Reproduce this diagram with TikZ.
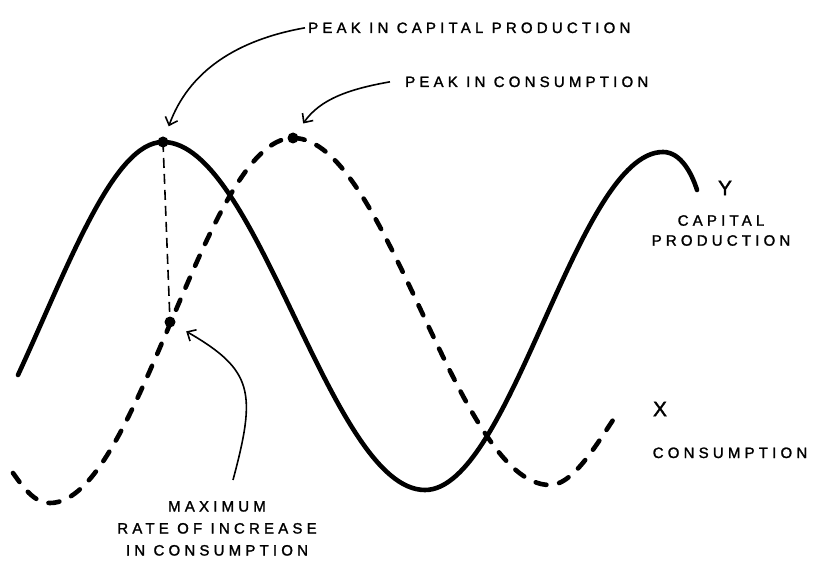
\documentclass[tikz,border=0pt]{standalone}
\usepackage{fontspec}
\newfontfamily\handfont[LetterSpace=28,FakeBold=1.6]{Liberation Sans}
\usetikzlibrary{arrows.meta}

\begin{document}
\begin{tikzpicture}[x=1pt,y=1pt,>={Straight Barb[length=7pt,width=13pt]},
  lbl/.style={font=\handfont\fontsize{15}{20}\selectfont,inner sep=3pt},
  bigletter/.style={font=\handfont\fontsize{21}{21}\selectfont,inner sep=0pt},
  curve/.style={line width=4.6pt,line cap=round},
  dashcurve/.style={curve,dash pattern=on 11pt off 13pt},
  guide/.style={line width=1.6pt,dash pattern=on 10pt off 6pt},
  pointer/.style={->,line width=1.6pt},
  dot/.style={circle,fill,inner sep=0pt,minimum size=11pt}]
  \useasboundingbox (0,0) rectangle (813,563);

  \node[dot] (capPeak) at (163,421) {};
  \node[dot] (conPeak) at (293,425) {};
  \node[dot] (conRise) at (170,241) {};

  \draw[curve] (18,188) .. controls +(50,108) and +(-50,0) .. (capPeak.center)
    .. controls +(95,0) and +(-95,0) .. (425,73)
    .. controls +(86,0) and +(-86,0) .. (663,411)
    .. controls +(18,0) and +(-5,16) .. (697,373);
  \draw[dashcurve] (13,90) .. controls +(10,-14) and +(-16,0) .. (50,60)
    .. controls +(88,0) and +(-88,0) .. (conPeak.center)
    .. controls +(94,0) and +(-94,0) .. (550,78)
    .. controls +(21,0) and +(-21,-32) .. (613,143);
  \draw[guide] (capPeak.center) -- (conRise.center);

  \node[lbl,anchor=base west] (capLbl) at (305,530) {PEAK IN CAPITAL PRODUCTION};
  \node[lbl,anchor=base west] (conLbl) at (402,476) {PEAK IN CONSUMPTION};
  \node[lbl,align=center,anchor=north,font=\handfont\fontsize{15}{22}\selectfont] (maxLbl) at (217,65) {MAXIMUM\\RATE OF INCREASE\\IN CONSUMPTION};
  \node[bigletter] (yLbl) at (725,375) {Y};
  \node[lbl,align=center,anchor=north] (yTxt) at (721,351) {CAPITAL\\PRODUCTION};
  \node[bigletter] (xLbl) at (660,154) {X};
  \node[lbl,anchor=base] (xTxt) at (730,105) {CONSUMPTION};
  \coordinate (maxTail) at (233,83);

  \draw[pointer,shorten >=11pt] (capLbl.west) to[out=190,in=70] (capPeak);
  \draw[pointer,shorten >=12pt] ([xshift=-12pt]conLbl.west) to[out=190,in=55] (conPeak);
  \draw[pointer,shorten >=13pt] (maxTail) to[out=75,in=-30,looseness=1.4] (conRise);
\end{tikzpicture}
\end{document}
